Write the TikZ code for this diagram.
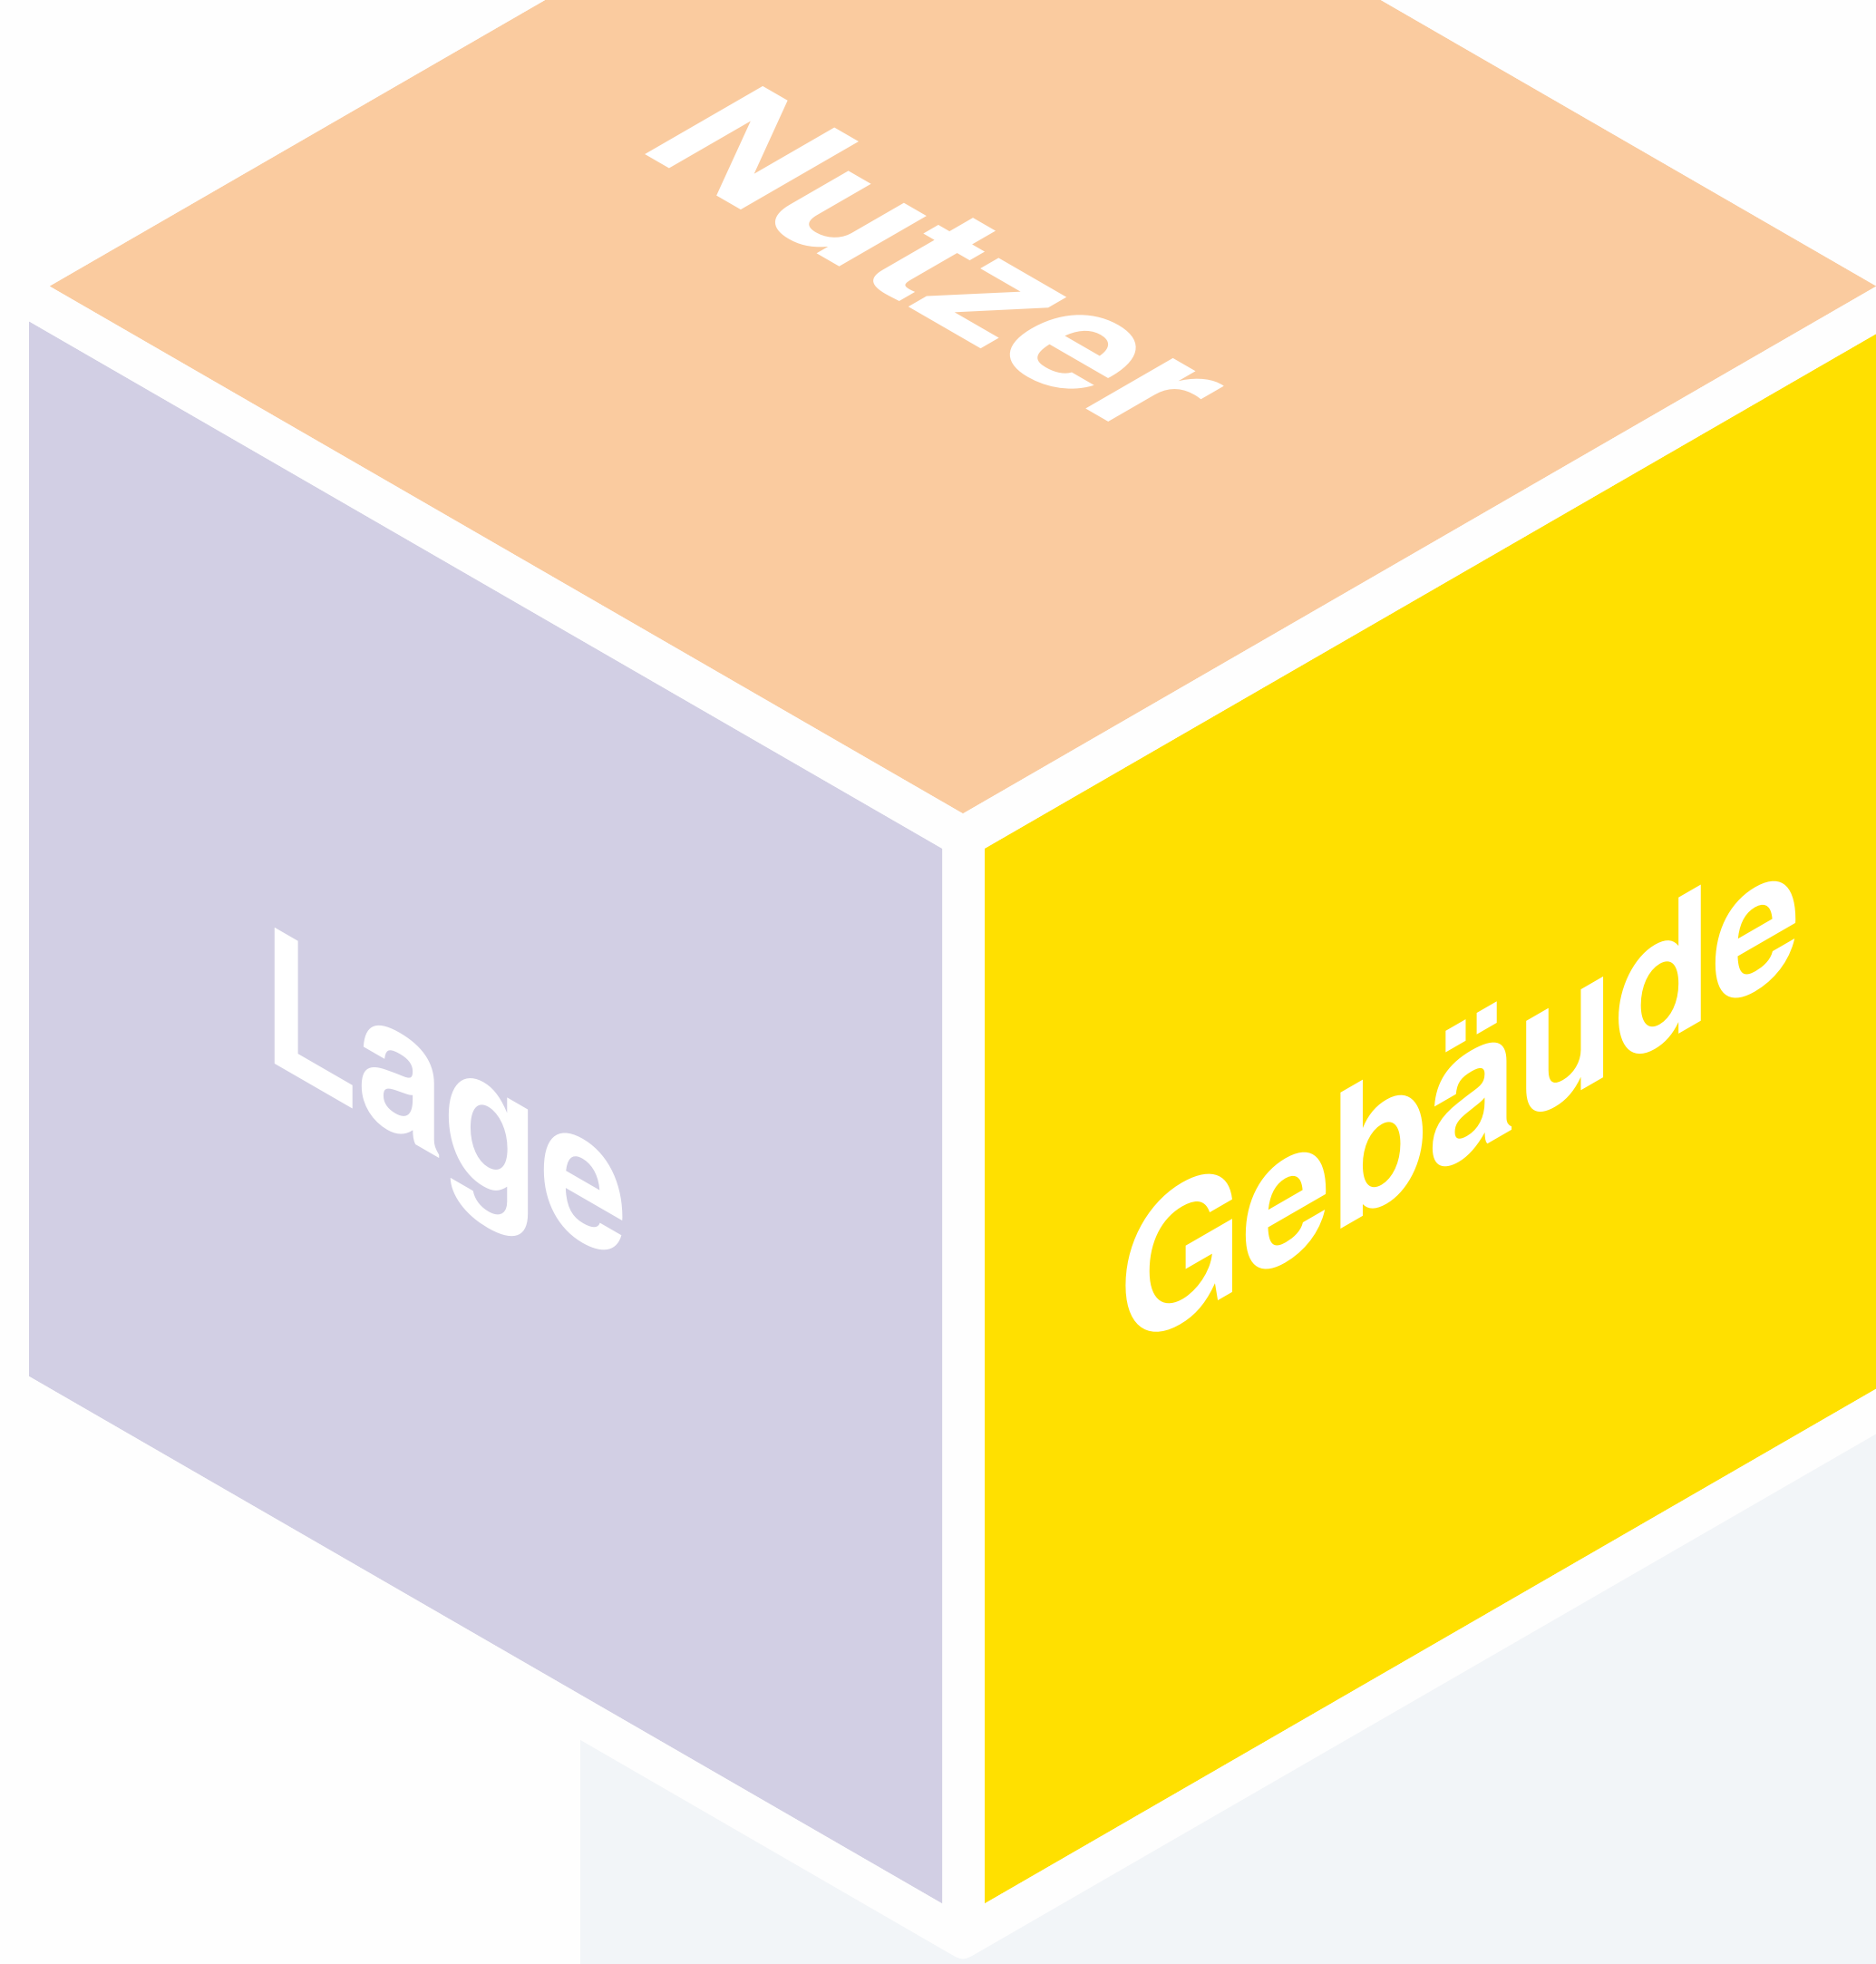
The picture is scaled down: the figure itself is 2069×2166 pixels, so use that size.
\documentclass[tikz,border=0pt]{standalone}
\usepackage{fontspec}
\setmainfont{TeX Gyre Heros}
\definecolor{peachc}{HTML}{FACB9F}
\definecolor{lavc}{HTML}{D2CFE4}
\definecolor{yelc}{HTML}{FFE000}
\definecolor{greyc}{HTML}{F2F5F8}
\definecolor{bgc}{HTML}{FEFEFE}
\begin{document}
\begin{tikzpicture}[x=1pt,y=-1pt,
  facelabel/.style={text=white, font=\fontsize{206}{240}\selectfont\bfseries, inner sep=0pt, outer sep=0pt, anchor=base west}]
\useasboundingbox (0,0) rectangle (2069,2166);
\fill[bgc] (0,0) rectangle (2069,2166);
% shadow
\fill[greyc] (640,1919) -- (1044.7,2153) .. controls (1062,2163) .. (1079.3,2153) -- (2069,1581.6) -- (2069,2166) -- (640,2166) -- cycle;
% top face
\fill[peachc] (601.6,0) -- (55,315.6) -- (1062,897) -- (2069,315.6) -- (1522.4,0) -- cycle;
% left face
\fill[lavc] (32,354.6) -- (1039,936) -- (1039,2099) -- (32,1517.6) -- cycle;
% right face
\fill[yelc] (1086,936) -- (2069,368.5) -- (2069,1531.5) -- (1086,2099) -- cycle;
% labels
\node[facelabel, cm={0.866,-0.5,0.866,0.5,(0,0)}] (nutzer) at (699,163.5) {Nutzer};
\node[facelabel, cm={0.836,-0.4825,0,1,(0,0)}] (lage) at (289,1165) {Lage};
\node[facelabel, cm={0.853,0.4925,0,1,(0,0)}] (gebaeude) at (1234,1497) {Gebäude};
\end{tikzpicture}
\end{document}
